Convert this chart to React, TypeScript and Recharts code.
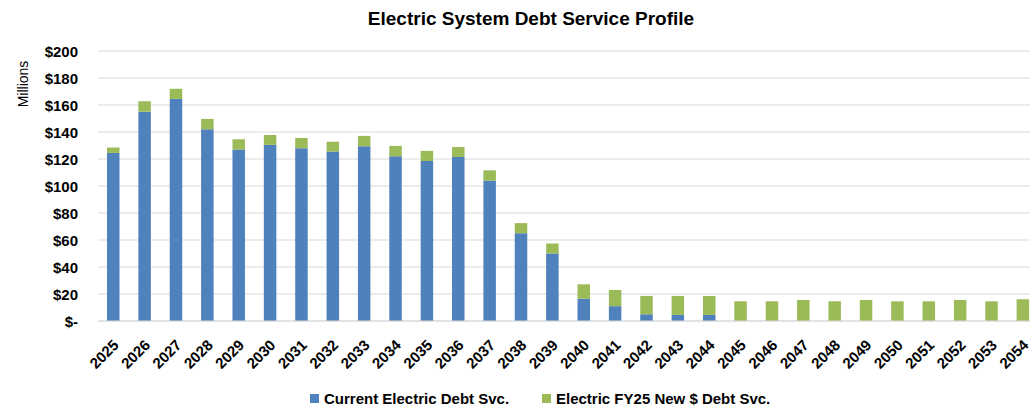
import { BarChart, Bar, XAxis, YAxis, CartesianGrid, Legend } from 'recharts';

const years = [
  '2025', '2026', '2027', '2028', '2029', '2030', '2031', '2032', '2033', '2034',
  '2035', '2036', '2037', '2038', '2039', '2040', '2041', '2042', '2043', '2044',
  '2045', '2046', '2047', '2048', '2049', '2050', '2051', '2052', '2053', '2054',
];

// $ millions, existing debt service
const currentDebt = [
  124.5, 155, 164.5, 142, 127, 130.5, 128, 125.5, 129.5, 122,
  118.5, 121.5, 104, 65, 50, 16.5, 11, 5, 4.5, 4.5,
  0, 0, 0, 0, 0, 0, 0, 0, 0, 0,
];

// $ millions, FY25 new money debt service
const newDebt = [
  4, 7.8, 7.5, 7.7, 7.6, 7.3, 7.6, 7.3, 7.6, 7.7,
  7.5, 7.4, 7.6, 7.5, 7.4, 10.7, 12, 13.6, 14.1, 14,
  14.6, 14.6, 15.6, 14.6, 15.6, 14.6, 14.6, 15.6, 14.6, 16.1,
];

const yTicks = [0, 20, 40, 60, 80, 100, 120, 140, 160, 180, 200];

const seriesNames = ['Current Electric Debt Svc.', 'Electric FY25 New $ Debt Svc.'];

const BLUE = '#4F81BD';
const GREEN = '#9BBB59';
const FONT = '"Liberation Sans", Arial, sans-serif';

const data = years.map((year, i) => ({
  year,
  current: currentDebt[i],
  fy25: newDebt[i],
}));

const fmtMoney = (v: number) => (v === 0 ? '$-' : `$${v}`);

const YTick = (props: any) => {
  const { x, y, payload } = props;
  return (
    <text x={x - 12} y={y} textAnchor="end" dominantBaseline="central"
      fontSize={15} fontWeight="bold" fontFamily={FONT} fill="#000">
      {fmtMoney(payload.value)}
    </text>
  );
};

const XTick = (props: any) => {
  const { x, y, payload } = props;
  const ax = x + 6;
  const ay = y + 17;
  return (
    <text x={ax} y={ay} textAnchor="end" transform={`rotate(-45 ${ax} ${ay})`}
      fontSize={15} fontWeight="bold" fontFamily={FONT} fill="#000">
      {payload.value}
    </text>
  );
};

const LegendBox = () => (
  <div style={{ position: 'relative', height: 20, fontFamily: FONT, fontSize: 15, fontWeight: 'bold', color: '#000' }}>
    {[BLUE, GREEN].map((c, i) => (
      <div key={c} style={{ position: 'absolute', left: i === 0 ? 310 : 542, top: 0, height: 20, display: 'flex', alignItems: 'center', whiteSpace: 'nowrap' }}>
        <span style={{ display: 'inline-block', width: 9, height: 9, background: c, marginRight: 5 }} />
        <span>{seriesNames[i]}</span>
      </div>
    ))}
  </div>
);

const App = () => {
  return (
    <div style={{ position: 'absolute', left: 0, top: 0, width: 1030, height: 409, overflow: 'hidden', background: '#fff' }}>
      <div style={{ position: 'absolute', left: 331, top: 8, width: 400, textAlign: 'center', fontFamily: FONT, fontSize: 19, fontWeight: 'bold', lineHeight: '22px', color: '#000', whiteSpace: 'nowrap' }}>
        Electric System Debt Service Profile
      </div>
      <BarChart width={1039} height={409} data={data}
        margin={{ top: 51, right: 0, bottom: 0, left: 0 }}>
        <CartesianGrid vertical={false} stroke="#d9d9d9" />
        <XAxis dataKey="year" interval={0} height={68} tick={<XTick />}
          tickLine={false} axisLine={{ stroke: '#d9d9d9' }} />
        <YAxis width={98} domain={[0, 200]} ticks={yTicks} tick={<YTick />}
          tickLine={false} axisLine={false}
          label={{
            content: () => (
              <text x={28} y={84} transform="rotate(-90 28 84)" textAnchor="middle"
                fontSize={14} fontFamily={FONT} fill="#000">Millions</text>
            ),
          }} />
        <Legend verticalAlign="bottom" content={<LegendBox />}
          wrapperStyle={{ top: 388, bottom: 'auto', left: 0, width: 1030, height: 20 }} />
        <Bar dataKey="current" name={seriesNames[0]} stackId="a" fill={BLUE} barSize={12.5} isAnimationActive={false} />
        <Bar dataKey="fy25" name={seriesNames[1]} stackId="a" fill={GREEN} barSize={12.5} isAnimationActive={false} />
      </BarChart>
    </div>
  );
};

export default App;
